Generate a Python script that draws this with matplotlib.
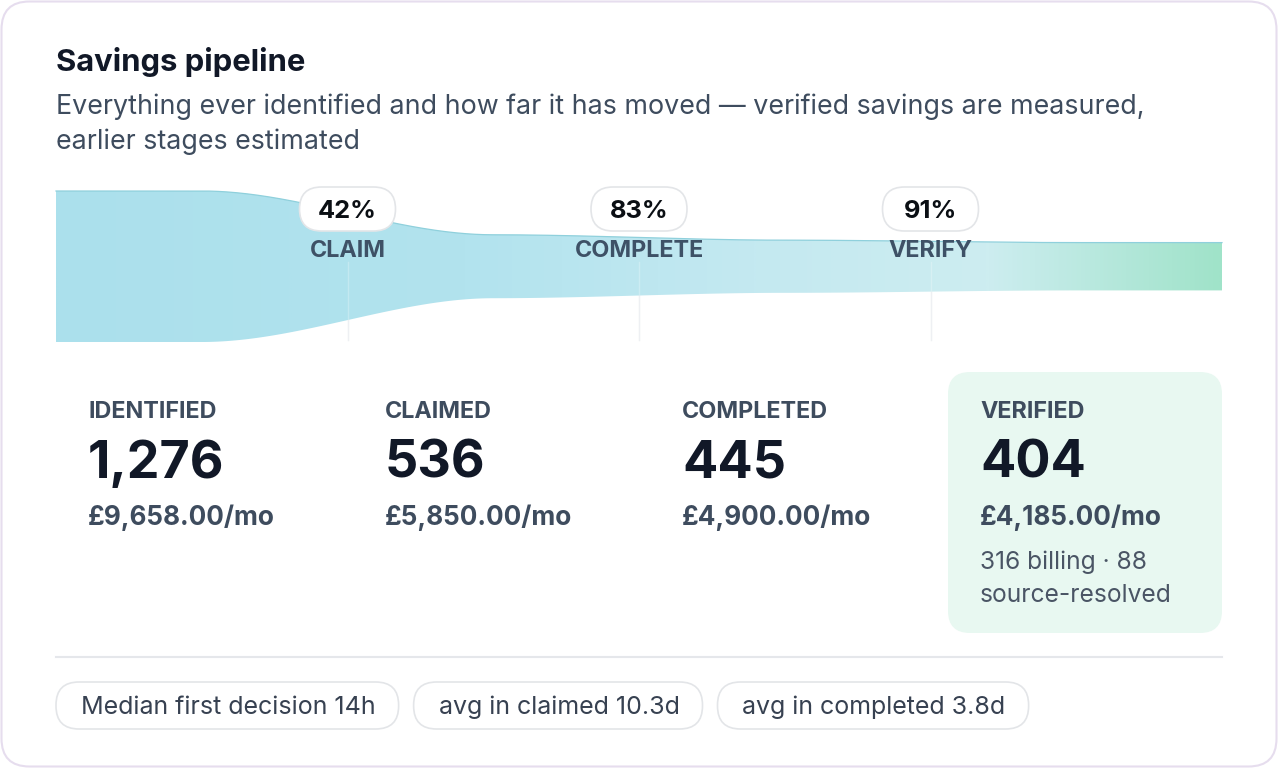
import numpy as np
import matplotlib
matplotlib.use('Agg')
import matplotlib.pyplot as plt
from matplotlib.patches import FancyBboxPatch, Polygon
from matplotlib.colors import LinearSegmentedColormap

plt.rcParams['font.family'] = ['Inter', 'DejaVu Sans']

stages = ['IDENTIFIED', 'CLAIMED', 'COMPLETED', 'VERIFIED']
counts = [1276, 536, 445, 404]
monthly = ['£9,658.00/mo', '£5,850.00/mo', '£4,900.00/mo', '£4,185.00/mo']
steps = ['CLAIM', 'COMPLETE', 'VERIFY']
step_pct = ['42%', '83%', '91%']
verified_note = ['316 billing · 88', 'source-resolved']
chips = ['Median first decision 14h', 'avg in claimed 10.3d', 'avg in completed 3.8d']

W, H = 1278, 768
fig = plt.figure(figsize=(W / 100, H / 100), dpi=100)
ax = fig.add_axes([0, 0, 1, 1])
ax.set_xlim(0, W)
ax.set_ylim(H, 0)
ax.axis('off')

# outer card
ax.add_patch(FancyBboxPatch((1.5, 1.5), W - 3, H - 3,
                            boxstyle='round,pad=0,rounding_size=28',
                            fc='white', ec='#E6DDEE', lw=1.5, zorder=0))

ink = '#111827'
slate = '#3E4C5E'

ax.text(56, 62, 'Savings pipeline', fontsize=22.3, fontweight='bold', color=ink, va='center')
ax.text(56, 107, 'Everything ever identified and how far it has moved \u2014 verified savings are measured,',
        fontsize=19.3, color=slate, va='center')
ax.text(56, 142, 'earlier stages estimated', fontsize=19.3, color=slate, va='center')

# funnel band
x0, x1, yc, hmax = 56, 1222, 266.5, 151
seg = (x1 - x0) / len(counts)
centers = x0 + seg * (np.arange(len(counts)) + 0.5)
hs = np.array(counts) / counts[0] * hmax
xs = np.linspace(x0, x1, 800)
hh = np.empty_like(xs)
for i, x in enumerate(xs):
    if x <= centers[0]:
        hh[i] = hs[0]
    elif x >= centers[-1]:
        hh[i] = hs[-1]
    else:
        k = np.searchsorted(centers, x) - 1
        t = (x - centers[k]) / seg
        s = t * t * (3 - 2 * t)
        hh[i] = hs[k] + (hs[k + 1] - hs[k]) * s
top = yc - hh / 2
bot = yc + hh / 2

for k in range(1, len(counts)):
    bx = x0 + seg * k
    ax.plot([bx, bx], [262, 340], color='#E9ECEF', lw=1, zorder=1)

cmap = LinearSegmentedColormap.from_list('band', [
    (0.0, '#ABE0EC'), (0.35, '#B2E3EE'), (0.6, '#C4E9F1'),
    (0.8, '#CDEDF0'), (0.92, '#B2E7D9'), (1.0, '#A0E3C9')])
grad = np.linspace(0, 1, 512).reshape(1, -1)
im = ax.imshow(grad, cmap=cmap, aspect='auto', extent=(x0, x1, bot.max(), top.min()), zorder=2)
poly = Polygon(np.column_stack([np.r_[xs, xs[::-1]], np.r_[top, bot[::-1]]]),
               closed=True, fc='none', ec='none')
ax.add_patch(poly)
im.set_clip_path(poly)
ax.plot(xs, top, color='#8FD0DC', lw=0.9, zorder=3)
for k in range(1, len(counts)):
    bx = x0 + seg * k
    ax.plot([bx, bx], [262, 340], color='white', lw=1, alpha=0.25, zorder=3)

for k, (lab, pct) in enumerate(zip(steps, step_pct)):
    bx = x0 + seg * (k + 1)
    ax.add_patch(FancyBboxPatch((bx - 48, 187), 96, 44,
                                boxstyle='round,pad=0,rounding_size=22',
                                fc='white', ec='#E3E5E8', lw=1.2, zorder=4))
    ax.text(bx, 211, pct, fontsize=18.3, fontweight='bold', color='#0B0F14',
            ha='center', va='center', zorder=5)
    ax.text(bx, 251, lab, fontsize=16.8, fontweight='bold', color='#3E5166',
            ha='center', va='center', zorder=5)

# stage cards
ax.add_patch(FancyBboxPatch((948, 372), 274, 261,
                            boxstyle='round,pad=0,rounding_size=22',
                            fc='#E8F8F1', ec='none', zorder=1))
card_x = [88, 385, 682, 980]
for cx, name, n, m in zip(card_x, stages, counts, monthly):
    ax.text(cx, 412, name, fontsize=16.8, fontweight='bold', color=slate, va='center')
    ax.text(cx, 464, f'{n:,}', fontsize=37.5, fontweight='bold', color=ink, va='center')
    ax.text(cx, 518, m, fontsize=18.8, fontweight='bold', color=slate, va='center')
for j, line in enumerate(verified_note):
    ax.text(card_x[-1], 562 + 34 * j, line, fontsize=17.7, color='#4A5565', va='center')

ax.plot([56, 1222], [657, 657], color='#E5E7EB', lw=1.5)

# chips
cx = 56
for c in chips:
    t = ax.text(cx + 25, 707, c, fontsize=18, color='#374151', va='center', zorder=3)
    fig.canvas.draw()
    bb = t.get_window_extent()
    w = bb.width + 48
    ax.add_patch(FancyBboxPatch((cx, 682), w, 47,
                                boxstyle='round,pad=0,rounding_size=23',
                                fc='white', ec='#E3E5E8', lw=1.2, zorder=2))
    cx += w + 15

fig.savefig('out.png', dpi=100)
